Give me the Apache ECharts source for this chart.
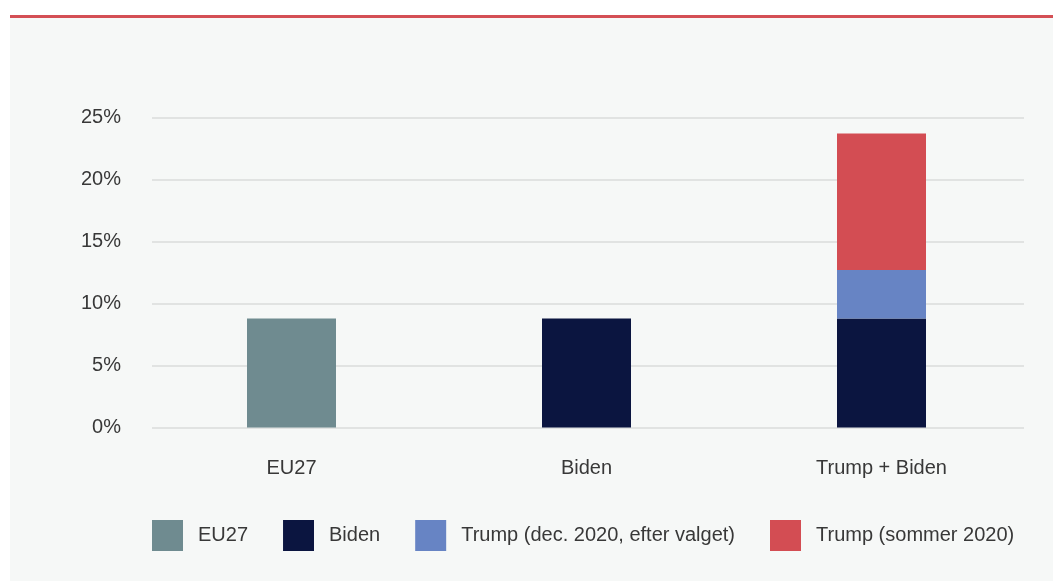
<!DOCTYPE html>
<html>
<head>
<meta charset="utf-8">
<script src="https://cdn.jsdelivr.net/npm/echarts@6/dist/echarts.min.js"></script>
<style>
  html, body { margin: 0; padding: 0; background: #ffffff; width: 1053px; height: 581px; overflow: hidden; }
  #panel { position: absolute; left: 10px; top: 15px; width: 1043px; height: 566px; background: #f6f8f7; border-top: 3px solid #d44f55; box-sizing: border-box; }
  #chart { position: absolute; left: 0; top: 0; width: 1053px; height: 581px; }
</style>
</head>
<body>
<div id="panel"></div>
<div id="chart"></div>
<script>
const categories = ['EU27', 'Biden', 'Trump + Biden'];
const seriesNames = ['EU27', 'Biden', 'Trump (dec. 2020, efter valget)', 'Trump (sommer 2020)'];
const eu27Values = [8.8, null, null];
const bidenValues = [null, 8.8, 8.8];
const trumpDecValues = [null, null, 3.9];
const trumpSummerValues = [null, null, 11.0];
const yTicks = [0, 5, 10, 15, 20, 25];
const colors = ['#6f8b90', '#0b1540', '#6784c4', '#d34d53'];

const font = '"Liberation Sans", Arial, sans-serif';
const textColor = '#383838';

const chart = echarts.init(document.getElementById('chart'), null, { renderer: 'canvas' });
const allValues = [eu27Values, bidenValues, trumpDecValues, trumpSummerValues];

chart.setOption({
  backgroundColor: 'transparent',
  animation: false,
  textStyle: { fontFamily: font },
  grid: [
    { left: 144, right: 24, top: 117.5, bottom: 581 - 427.5, containLabel: false },
    { left: 152, right: 29, top: 117.5, bottom: 581 - 427.5, containLabel: false }
  ],
  xAxis: [
    {
      type: 'category', gridIndex: 0, data: categories,
      axisLine: { show: false }, axisTick: { show: false },
      axisLabel: { color: textColor, fontSize: 20, fontFamily: font, margin: 31 }
    },
    {
      type: 'category', gridIndex: 1, data: categories, show: false
    }
  ],
  yAxis: [
    {
      type: 'value', gridIndex: 0, min: yTicks[0], max: yTicks[yTicks.length - 1], interval: 5,
      show: false, splitLine: { show: false }
    },
    {
      type: 'value', gridIndex: 1, min: yTicks[0], max: yTicks[yTicks.length - 1], interval: 5,
      axisLine: { show: false }, axisTick: { show: false },
      axisLabel: { color: textColor, fontSize: 20, fontFamily: font, margin: 31, padding: [5, 0, 0, 0], formatter: v => v + '%' },
      splitLine: { lineStyle: { color: '#dadcdb', width: 1.5 } }
    }
  ],
  legend: {
    left: 152, top: 520, padding: 0,
    itemWidth: 31, itemHeight: 31, itemGap: 35,
    icon: 'rect',
    data: seriesNames,
    textStyle: { color: textColor, fontSize: 20, fontFamily: font, padding: [0, 0, 0, 10] }
  },
  series: seriesNames.map((name, i) => ({
    name: name,
    type: 'bar',
    stack: 'total',
    xAxisIndex: 0, yAxisIndex: 0,
    barWidth: 89,
    data: allValues[i],
    itemStyle: { color: colors[i] },
    emphasis: { disabled: true }
  }))
});
</script>
</body>
</html>
